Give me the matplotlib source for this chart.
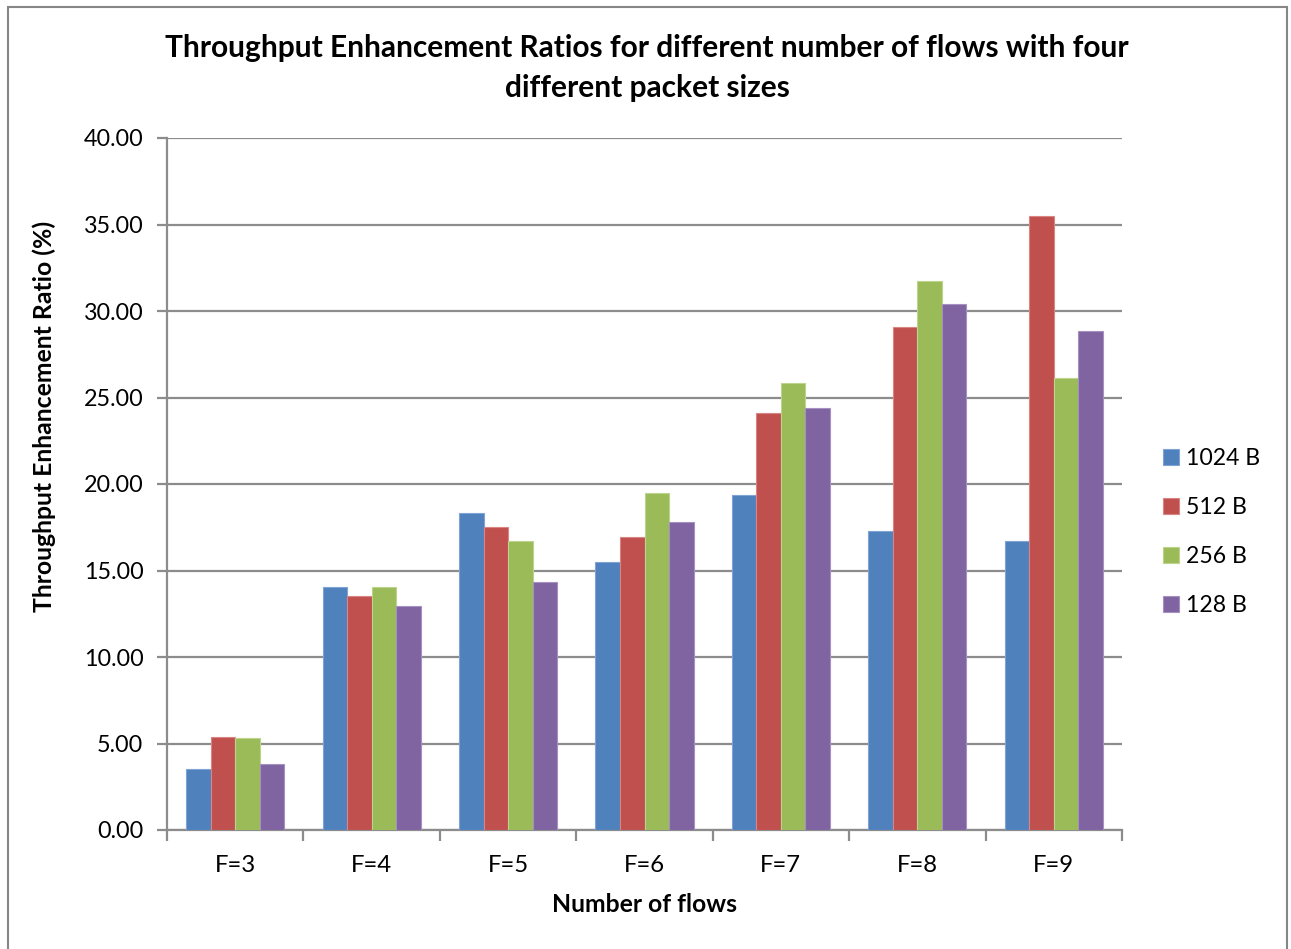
import matplotlib
matplotlib.use("Agg")
import matplotlib.pyplot as plt
import numpy as np
from matplotlib.patches import Rectangle

plt.rcParams['font.family'] = ['Lato', 'DejaVu Sans']

categories = ["F=3", "F=4", "F=5", "F=6", "F=7", "F=8", "F=9"]
series_names = ["1024 B", "512 B", "256 B", "128 B"]
vals_1024 = [3.55, 14.06, 18.35, 15.50, 19.35, 17.29, 16.73]
vals_512 = [5.36, 13.52, 17.52, 16.95, 24.13, 29.09, 35.50]
vals_256 = [5.33, 14.04, 16.68, 19.49, 25.81, 31.76, 26.10]
vals_128 = [3.84, 12.96, 14.36, 17.81, 24.38, 30.43, 28.82]
y_ticks = [0, 5, 10, 15, 20, 25, 30, 35, 40]

colors = ["#4F81BD", "#C0504D", "#9BBB59", "#8064A2"]
edges = ["#7FA3D3", "#D98584", "#BCD48C", "#A591C0"]

W, H = 1291, 949
fig = plt.figure(figsize=(W / 100, H / 100), dpi=100)
ax = fig.add_axes([167 / W, 1 - 830 / H, (1122 - 167) / W, (830 - 138) / H])

# outer chart frame
fig.patches.append(Rectangle((8 / W, -0.01), (1287 - 8) / W, (949 - 7) / H + 0.01,
                             transform=fig.transFigure, fill=False,
                             edgecolor="#868686", linewidth=1.5))

x = np.arange(len(categories))
bw = 0.18
all_vals = [vals_1024, vals_512, vals_256, vals_128]
for i, (vals, name) in enumerate(zip(all_vals, series_names)):
    ax.bar(x + (i - 1.5) * bw, vals, width=bw, color=colors[i],
           edgecolor=edges[i], linewidth=0.8, label=name, zorder=3)

ax.set_xlim(-0.5, len(categories) - 0.5)
ax.set_ylim(0, 40)
ax.set_yticks(y_ticks)
ax.set_yticklabels([f"{v:.2f}" for v in y_ticks], fontsize=16.8)
ax.yaxis.grid(True, color="#8C8C8C", linewidth=1.6, zorder=0)
ax.set_axisbelow(True)

ax.set_xticks(x)
ax.set_xticklabels(categories, fontsize=17.2)
ax.set_xticks(np.arange(-0.5, len(categories)), minor=True)
ax.tick_params(axis="x", which="major", length=0, pad=18)
ax.tick_params(axis="x", which="minor", length=8, width=1.6, color="#8C8C8C")
ax.tick_params(axis="y", length=7, width=1.6, color="#8C8C8C", pad=10)

for s in ["top", "right"]:
    ax.spines[s].set_visible(False)
for s in ["left", "bottom"]:
    ax.spines[s].set_color("#8C8C8C")
    ax.spines[s].set_linewidth(1.6)

fig.text(647 / W, 1 - 68 / H,
         "Throughput Enhancement Ratios for different number of flows with four\ndifferent packet sizes",
         ha="center", va="center", fontsize=21.5, fontweight="bold", linespacing=1.5)
fig.text(645 / W, 1 - 905 / H, "Number of flows", ha="center", va="center",
         fontsize=17.8, fontweight="bold")
fig.text(44 / W, 1 - 416 / H, "Throughput Enhancement Ratio (%)", ha="center",
         va="center", rotation=90, fontsize=17.8, fontweight="bold")

leg = fig.legend(loc="center left", bbox_to_anchor=(1142 / W, 1 - 532 / H),
                 frameon=False, fontsize=16.6, handlelength=0.7, handleheight=0.7,
                 handletextpad=0.3, labelspacing=1.22)

fig.savefig("out.png", dpi=100)
